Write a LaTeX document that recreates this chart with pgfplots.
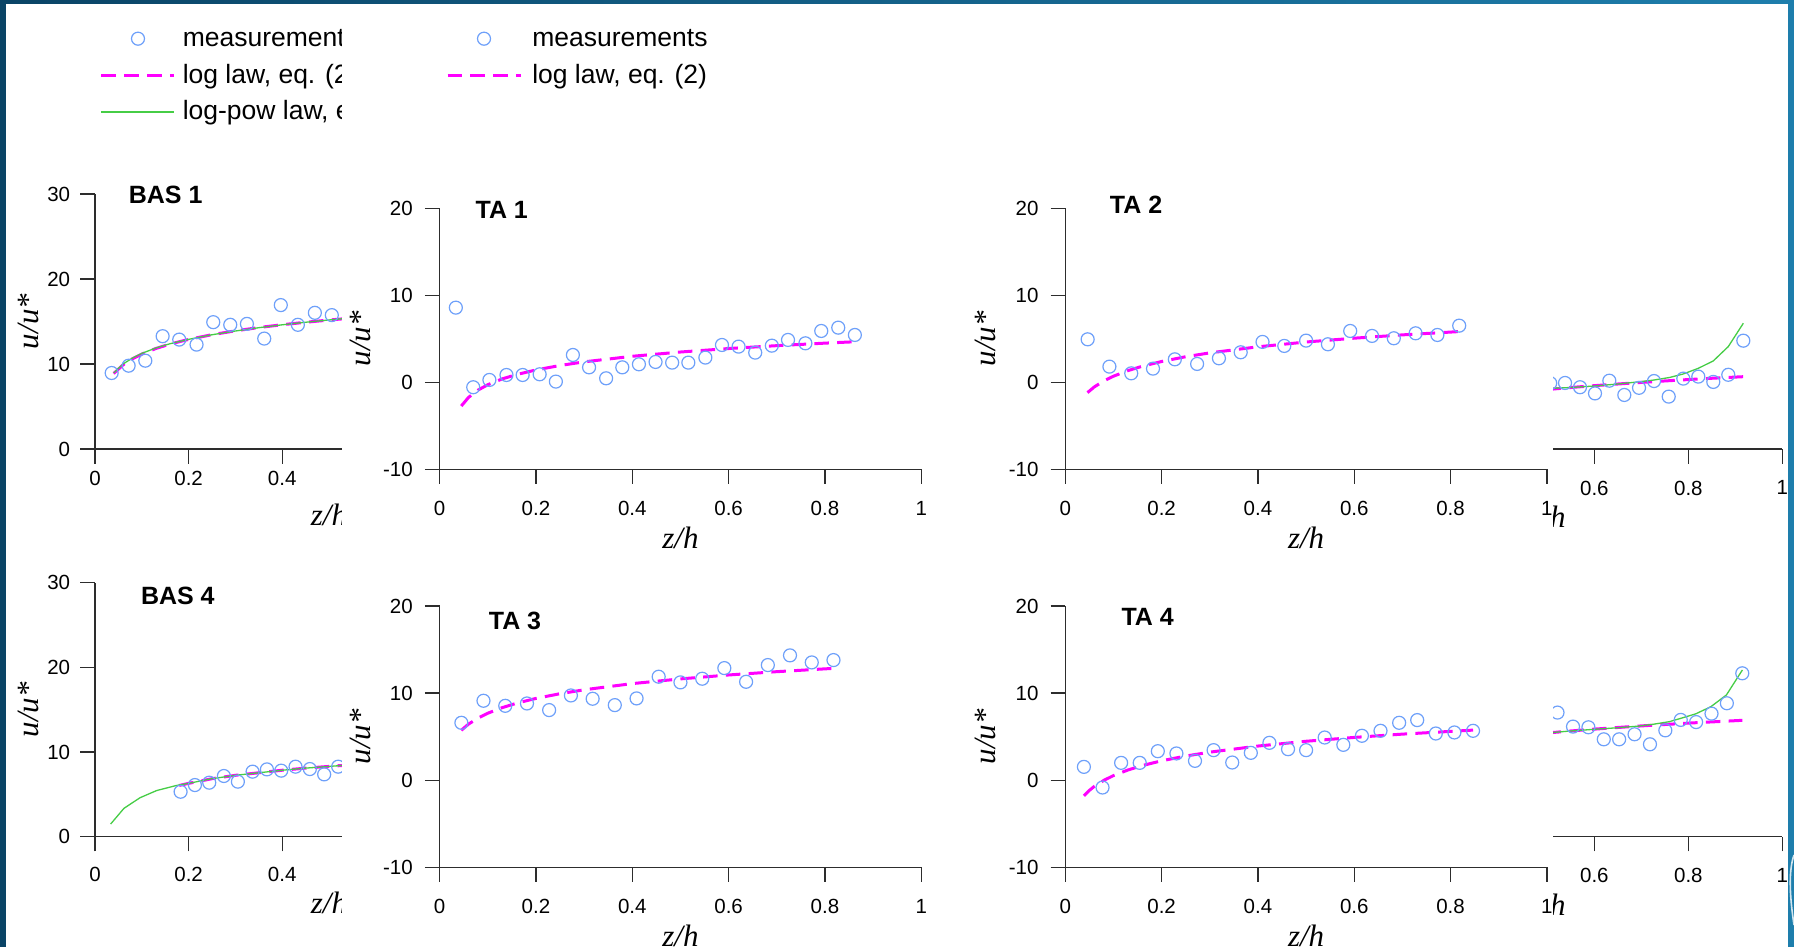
\documentclass[border=0pt]{standalone}
\usepackage{fontspec}
\setmainfont{Liberation Sans}
\newfontfamily\timesfont{Liberation Serif}
\usepackage{pgfplots}
\pgfplotsset{compat=1.18}

\definecolor{slidenavy}{RGB}{10,68,102}
\definecolor{slideblue}{RGB}{30,126,172}
\definecolor{measblue}{RGB}{110,160,250}
\definecolor{powgreen}{RGB}{70,205,70}
\definecolor{lawmagenta}{RGB}{255,0,255}
\definecolor{axisgray}{RGB}{45,45,45}

\newcommand{\tickfont}{\fontsize{20.5}{24}\selectfont}
\newcommand{\legfont}{\fontsize{26.5}{30}\selectfont}
\newcommand{\titlefont}{\fontsize{25}{30}\selectfont\bfseries}
\newcommand{\labfont}{\fontsize{31}{36}\selectfont\timesfont\itshape}

\pgfplotsset{
  panel/.style={
    scale only axis,
    clip=false,
    axis lines*=left,
    axis line style={draw=axisgray, line width=1.2pt},
    major tick style={draw=axisgray, line width=1.2pt},
    tick align=outside,
    major tick length=14.7pt,
    xmin=0, xmax=1,
    xtick={0,0.2,0.4,0.6,0.8,1},
    xticklabels={0,0.2,0.4,0.6,0.8,1},
    tick label style={font=\tickfont, inner sep=0pt},
    xticklabel style={anchor=north},
    yticklabel style={anchor=east},
    xlabel={z/h},
    ylabel={u/u*},
    label style={font=\labfont},
    legend image code/.code={\draw[mark repeat=2,mark phase=2,##1] plot coordinates {(0pt,0pt) (36.5pt,0pt) (73pt,0pt)};},
  },
  baspanel/.style={panel, width=468pt, ymin=0, ymax=30,
    ytick={0,10,20,30}, yticklabels={0,10,20,30},
    yticklabel style={xshift=-10pt},
    xlabel style={at={(axis description cs:0.5,-0.259)}, anchor=center},
    ylabel style={at={(axis description cs:-0.143,0.5)}, anchor=center}},
  tapanel/.style={panel, ymin=-10, ymax=20,
    ytick={-10,0,10,20}, yticklabels={-10,0,10,20},
    yticklabel style={xshift=-12pt}, xticklabel style={yshift=-16.9pt},
    xlabel style={at={(axis description cs:0.5,-0.261)}, anchor=center},
    ylabel style={at={(axis description cs:-0.165,0.5)}, anchor=center}},
  meas/.style={only marks, mark=o, mark size=6.5pt, draw=measblue,
    mark options={draw=measblue, line width=1.2pt}},
  loglaw/.style={no markers, draw=lawmagenta, line width=3pt, dash pattern=on 14.5pt off 8.3pt},
  logpow/.style={no markers, draw=powgreen, line width=1.3pt},
  legbox/.style={draw=none, fill=none, inner sep=0pt, outer sep=0pt, font=\legfont,
    row sep=10.6pt, nodes={inner sep=0pt, text height=21pt, text depth=5pt}},
}

\begin{document}
\begin{tikzpicture}[x=1pt,y=1pt]
\useasboundingbox (0,0) rectangle (1794,947);
\fill[white] (0,0) rectangle (1794,947);

% ---------- BAS 1 ----------
\begin{axis}[baspanel, at={(95pt,498pt)}, anchor=south west, height=255pt,
  xticklabel style={yshift=-7.2pt},
  legend style={legbox, at={(axis description cs:0.01068,1.660)}, anchor=north west,
    /tikz/every odd column/.append style={column sep=6.8pt}},
  legend cell align=left]
\addplot[meas] coordinates {(0.0356,8.94) (0.0719,9.80) (0.1075,10.39) (0.1445,13.27) (0.180,12.87) (0.217,12.28) (0.2527,14.92) (0.289,14.61) (0.3246,14.72) (0.3616,12.99) (0.397,16.93) (0.4335,14.61) (0.4698,16.02) (0.506,15.75)};
\addlegendentry{measurements}
\addplot[loglaw] coordinates {(0.04,8.88) (0.06,9.90) (0.08,10.61) (0.10,11.17) (0.13,11.82) (0.16,12.34) (0.20,12.89) (0.25,13.45) (0.30,13.90) (0.35,14.29) (0.40,14.62) (0.45,14.91) (0.50,15.17) (0.55,15.41)};
\addlegendentry{log law, eq. (2)}
\addplot[logpow] coordinates {(0.04,8.95) (0.06,10.0) (0.08,10.7) (0.10,11.25) (0.13,11.88) (0.16,12.38) (0.20,12.9) (0.25,13.44) (0.30,13.88) (0.35,14.27) (0.40,14.61) (0.45,14.91) (0.50,15.18) (0.55,15.43)};
\addlegendentry{log-pow law, eq. (3)}
\node[font=\titlefont] at (axis cs:0.151,29.9) {BAS 1};
\end{axis}

% ---------- BAS 4 ----------
\begin{axis}[baspanel, at={(95pt,110.3pt)}, anchor=south west, height=254pt,
  xticklabel style={yshift=-16pt}]
\addplot[meas] coordinates {(0.1829,5.31) (0.2135,6.10) (0.2441,6.38) (0.2754,7.17) (0.3053,6.50) (0.3367,7.68) (0.3673,7.95) (0.3979,7.80) (0.4285,8.27) (0.4591,7.99) (0.4897,7.36) (0.5196,8.27)};
\addplot[loglaw] coordinates {(0.18,6.05) (0.20,6.3) (0.25,6.85) (0.30,7.25) (0.35,7.55) (0.40,7.85) (0.45,8.1) (0.50,8.3) (0.55,8.5)};
\addplot[logpow] coordinates {(0.0335,1.50) (0.0619,3.35) (0.0961,4.6) (0.1317,5.45) (0.174,6.05) (0.20,6.3) (0.25,6.85) (0.30,7.25) (0.35,7.55) (0.40,7.85) (0.45,8.1) (0.50,8.3) (0.55,8.5)};
\node[font=\titlefont] at (axis cs:0.177,28.4) {BAS 4};
\end{axis}

% ---------- TA 2, right-hand profile ----------
\begin{axis}[tapanel, at={(1312.5pt,498pt)}, anchor=south west, width=469.8pt, height=261pt,
  ymin=-7.67, ymax=22.33]
\addplot[meas] coordinates {(0.506,-0.1) (0.5375,-0.08) (0.5694,-0.57) (0.6013,-1.28) (0.6318,0.18) (0.6637,-1.46) (0.695,-0.64) (0.7269,0.14) (0.7582,-1.65) (0.7893,0.42) (0.8212,0.65) (0.8531,0.04) (0.885,0.86) (0.917,4.78)};
\addplot[loglaw] coordinates {(0.45,-1.09) (0.514,-0.77) (0.55,-0.60) (0.60,-0.39) (0.65,-0.20) (0.70,-0.02) (0.75,0.15) (0.80,0.31) (0.85,0.46) (0.917,0.64)};
\addplot[logpow] coordinates {(0.45,-0.95) (0.514,-0.69) (0.55,-0.6) (0.60,-0.43) (0.65,-0.2) (0.70,0.08) (0.727,0.26) (0.76,0.55) (0.789,0.95) (0.821,1.6) (0.853,2.45) (0.885,4.1) (0.917,6.78)};
\end{axis}

% ---------- TA 4, right-hand profile ----------
\begin{axis}[tapanel, at={(1312.5pt,110.3pt)}, anchor=south west, width=469.8pt, height=261.3pt,
  ymin=-6.51, ymax=23.49]
\addplot[meas] coordinates {(0.5215,7.74) (0.5545,6.13) (0.5873,6.05) (0.62,4.67) (0.6527,4.67) (0.6855,5.25) (0.7183,4.10) (0.751,5.70) (0.7838,6.90) (0.8165,6.65) (0.8493,7.62) (0.882,8.81) (0.9148,12.25)};
\addplot[loglaw] coordinates {(0.45,5.15) (0.509,5.44) (0.55,5.63) (0.60,5.84) (0.65,6.03) (0.70,6.21) (0.75,6.37) (0.80,6.53) (0.85,6.67) (0.915,6.85)};
\addplot[logpow] coordinates {(0.45,5.15) (0.509,5.44) (0.55,5.63) (0.60,5.82) (0.65,6.0) (0.697,6.2) (0.7255,6.4) (0.76,6.7) (0.784,7.08) (0.816,7.6) (0.848,8.42) (0.881,9.76) (0.915,12.63)};
\end{axis}

% white sheet of the TA figures
\fill[white] (341.7,0) rectangle (1552.8,947);

% ---------- TA 1 ----------
\begin{axis}[tapanel, at={(439.6pt,477.7pt)}, anchor=south west, width=481.7pt, height=261pt,
  legend style={legbox, at={(axis description cs:0.01329,1.6996)}, anchor=north west,
    /tikz/every odd column/.append style={column sep=10.3pt}},
  legend cell align=left]
\addplot[meas] coordinates {(0.0337,8.58) (0.0698,-0.57) (0.1034,0.27) (0.1388,0.84) (0.1724,0.84) (0.2077,0.92) (0.2414,0.08) (0.2767,3.14) (0.3103,1.72) (0.3457,0.46) (0.3793,1.72) (0.4138,2.07) (0.4483,2.34) (0.4828,2.26) (0.5164,2.26) (0.5517,2.84) (0.5862,4.29) (0.6207,4.10) (0.6552,3.41) (0.6897,4.21) (0.7233,4.87) (0.7594,4.48) (0.7923,5.90) (0.8276,6.28) (0.8621,5.44)};
\addlegendentry{measurements}
\addplot[loglaw] coordinates {(0.045,-2.73) (0.06,-1.74) (0.08,-0.89) (0.10,-0.28) (0.13,0.39) (0.16,0.89) (0.20,1.42) (0.25,1.93) (0.30,2.35) (0.40,2.99) (0.50,3.48) (0.60,3.88) (0.70,4.21) (0.80,4.50) (0.862,4.66)};
\addlegendentry{log law, eq. (2)}
\node[font=\titlefont] at (axis cs:0.129,19.8) {TA 1};
\end{axis}

% ---------- TA 3 ----------
\begin{axis}[tapanel, at={(439.6pt,79.7pt)}, anchor=south west, width=481.7pt, height=261.3pt]
\addplot[meas] coordinates {(0.0452,6.59) (0.0911,9.12) (0.1363,8.54) (0.1814,8.81) (0.2274,8.05) (0.2726,9.73) (0.3177,9.35) (0.3637,8.62) (0.4089,9.39) (0.4548,11.88) (0.5,11.23) (0.5452,11.65) (0.5911,12.87) (0.6363,11.30) (0.6814,13.22) (0.7274,14.33) (0.7726,13.52) (0.8177,13.79)};
\addplot[loglaw] coordinates {(0.045,5.73) (0.06,6.44) (0.08,7.14) (0.10,7.69) (0.13,8.33) (0.16,8.84) (0.20,9.39) (0.25,9.93) (0.30,10.38) (0.40,11.09) (0.50,11.63) (0.60,12.08) (0.70,12.46) (0.8177,12.84)};
\node[font=\titlefont] at (axis cs:0.1565,18.3) {TA 3};
\end{axis}

% ---------- TA 2 ----------
\begin{axis}[tapanel, at={(1065.3pt,477.7pt)}, anchor=south west, width=481.6pt, height=261pt]
\addplot[meas] coordinates {(0.0464,4.94) (0.0916,1.80) (0.1369,1.03) (0.1821,1.57) (0.2274,2.64) (0.2737,2.11) (0.319,2.76) (0.3642,3.45) (0.4095,4.64) (0.4547,4.18) (0.5,4.79) (0.5453,4.37) (0.5916,5.90) (0.6369,5.33) (0.6821,5.06) (0.7274,5.63) (0.7726,5.44) (0.8179,6.51)};
\addplot[loglaw] coordinates {(0.046,-1.19) (0.06,-0.54) (0.08,0.16) (0.10,0.70) (0.13,1.34) (0.16,1.85) (0.20,2.39) (0.25,2.94) (0.30,3.38) (0.40,4.08) (0.50,4.63) (0.60,5.07) (0.70,5.45) (0.818,5.83)};
\node[font=\titlefont] at (axis cs:0.147,20.4) {TA 2};
\end{axis}

% ---------- TA 4 ----------
\begin{axis}[tapanel, at={(1065.3pt,79.7pt)}, anchor=south west, width=481.6pt, height=261.3pt]
\addplot[meas] coordinates {(0.0386,1.53) (0.0773,-0.84) (0.1159,1.99) (0.1545,1.99) (0.1921,3.33) (0.2307,3.07) (0.2693,2.22) (0.3079,3.45) (0.3466,2.03) (0.3852,3.14) (0.4238,4.29) (0.4625,3.56) (0.5,3.45) (0.5386,4.90) (0.5773,4.06) (0.6159,5.10) (0.6545,5.67) (0.6932,6.59) (0.7307,6.90) (0.7693,5.36) (0.8079,5.48) (0.8466,5.67)};
\addplot[loglaw] coordinates {(0.0386,-1.80) (0.05,-1.17) (0.06,-0.72) (0.08,-0.02) (0.10,0.53) (0.13,1.17) (0.16,1.68) (0.20,2.23) (0.25,2.77) (0.30,3.22) (0.40,3.92) (0.50,4.47) (0.60,4.91) (0.70,5.29) (0.8466,5.75)};
\node[font=\titlefont] at (axis cs:0.171,18.8) {TA 4};
\end{axis}

% slide frame
\fill[slidenavy] (0,0) rectangle (6,947);
\shade[left color=slidenavy, right color=slideblue] (0,943) rectangle (1794,947);
\fill[slideblue] (1788,0) rectangle (1794,947);
\draw[white, line width=1.6pt, opacity=0.8] (1794,92) .. controls (1789,78) and (1789,55) .. (1794,22);
\end{tikzpicture}
\end{document}
